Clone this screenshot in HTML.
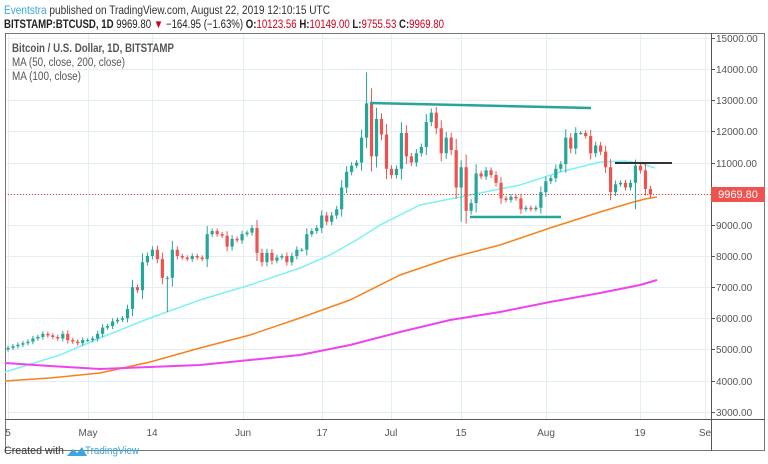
<!DOCTYPE html>
<html><head><meta charset="utf-8"><style>
body{margin:0;background:#fff;width:768px;height:464px;overflow:hidden;font-family:"Liberation Sans",sans-serif}
svg{position:absolute;left:0;top:0}
</style></head><body>
<svg id="s" width="768" height="464" xmlns="http://www.w3.org/2000/svg" font-family="Liberation Sans, sans-serif">
<text x="4" y="14" font-size="12" fill="#333" textLength="326" lengthAdjust="spacingAndGlyphs"><tspan fill="#3ba6e0">Eventstra</tspan> published on TradingView.com, August 22, 2019 12:10:15 UTC</text>
<text x="4" y="28" font-size="11.5" fill="#222" textLength="440" lengthAdjust="spacingAndGlyphs"><tspan font-weight="bold">BITSTAMP:BTCUSD, 1D</tspan> 9969.80 <tspan fill="#d0021b">▼</tspan> −164.95 (−1.63%) <tspan font-weight="bold">O:</tspan><tspan fill="#d0021b">10123.56</tspan> <tspan font-weight="bold">H:</tspan><tspan fill="#d0021b">10149.00</tspan> <tspan font-weight="bold">L:</tspan><tspan fill="#d0021b">9755.53</tspan> <tspan font-weight="bold">C:</tspan><tspan fill="#d0021b">9969.80</tspan></text>
<g id="grid" stroke="#e3eff4" stroke-width="1"></g>
<rect x="5.5" y="33.5" width="759" height="417" fill="none" stroke="#777"/>
<line x1="711.5" y1="33" x2="711.5" y2="451" stroke="#555"/>
<line x1="5" y1="419.5" x2="765" y2="419.5" stroke="#555"/>
<text x="12" y="52" font-size="11.5" fill="#555" font-weight="bold" textLength="162" lengthAdjust="spacingAndGlyphs">Bitcoin / U.S. Dollar, 1D, BITSTAMP</text>
<text x="12" y="66" font-size="11.5" fill="#555" textLength="113" lengthAdjust="spacingAndGlyphs">MA (50, close, 200, close)</text>
<text x="12" y="80" font-size="11.5" fill="#555" textLength="69" lengthAdjust="spacingAndGlyphs">MA (100, close)</text>
<g id="yl" font-size="10" fill="#555"></g>
<g id="xl" font-size="10" fill="#555" text-anchor="middle"></g>
<polyline fill="none" stroke="#7ff0f5" stroke-width="1.5" points="5,372 60,355 100,338 150,318 200,300 250,285 300,268 330,255 360,238 380,225 420,205 470,195 520,185 560,172 600,162 625,161 640,163 655,168"/>
<polyline fill="none" stroke="#f7821b" stroke-width="1.5" points="5,381 50,378 100,373 150,362 200,348 250,335 300,318 350,300 400,275 450,258 500,245 550,228 600,212 630,203 645,199 657,197"/>
<polyline fill="none" stroke="#ee44ee" stroke-width="2" points="5,363 50,366 100,369 150,367 200,365 250,360 300,355 350,345 400,332 450,320 500,312 550,302 600,293 640,285 657,280"/>
<line x1="5" y1="194.5" x2="711" y2="194.5" stroke="#e53935" stroke-dasharray="1,2"/>
<g id="c"></g>
<line x1="370" y1="103" x2="591" y2="108" stroke="#26a69a" stroke-width="2.5"/>
<line x1="470" y1="217" x2="561" y2="217" stroke="#26a69a" stroke-width="2.5"/>
<line x1="615" y1="163" x2="672" y2="163" stroke="#333" stroke-width="2"/>
<rect x="711" y="187" width="54" height="15" fill="#ef5350"/>
<text x="738" y="198" font-size="11" fill="#fff" text-anchor="middle">9969.80</text>
<text x="4" y="454" font-size="11" fill="#333" textLength="60" lengthAdjust="spacingAndGlyphs">Created with</text>
<path d="M67 456 l6-7 4 4 5-6 5 9z" fill="#3ba6e0"/>
<text x="85" y="454" font-size="11" fill="#3ba6e0" textLength="54" lengthAdjust="spacingAndGlyphs">TradingView</text>
</svg>
<script>
const NS="http://www.w3.org/2000/svg";
function el(p,t,a,txt){const e=document.createElementNS(NS,t);for(const k in a)e.setAttribute(k,a[k]);if(txt)e.textContent=txt;document.getElementById(p).appendChild(e);}
const Y=p=>38+(15000-p)*0.03114;
for(let p=3000;p<=15000;p+=1000){const y=Math.round(Y(p))+.5;el("grid","line",{x1:5,x2:711,y1:y,y2:y});el("yl","text",{x:716,y:y+3.5},p+".00");el("grid","line",{x1:711,x2:715,y1:y,y2:y,stroke:"#555"});}
const xs=[[8,"5"],[88,"May"],[152,"14"],[243,"Jun"],[322,"17"],[391,"Jul"],[461,"15"],[546,"Aug"],[640,"19"],[705,"Se"]];
xs.forEach(([x,t])=>{el("grid","line",{x1:x+.5,x2:x+.5,y1:34,y2:419});el("xl","text",{x:x,y:436},t);});
const C=[5050,5100,5150,5200,5250,5350,5400,5500,5450,5400,5350,5500,5300,5250,5200,5300,
5300,5350,5500,5700,5750,5900,5950,6000,6300,7000,6900,7800,8000,8200,7900,7300,7300,8200,8000,7950,7900,8000,7950,7900,8700,8800,8700,8650,8300,8550,8500,
8700,8750,8900,8100,7800,8100,7850,7950,8000,7800,8000,8200,8200,8700,8800,8900,9300,9100,9300,9500,10200,10700,10900,11000,11800,12900,11200,12400,11900,10800,
10600,10800,11950,11200,11000,11300,11500,12300,12600,12100,11300,11800,11400,10200,10850,9450,9700,10650,10550,10750,10600,10350,9850,9800,9900,9850,9500,9550,9500,9550,10050,
10400,10500,10800,10950,11800,11450,11950,11950,11850,11300,11550,11350,10850,10050,10300,10350,10200,10350,10900,10750,10150,9970];
let prev=5000;
C.forEach((c,i)=>{const x=8+i*4.98;const o=prev;const up=c>=o;const col=up?"#26a69a":"#ef5350";
let hi=Math.max(o,c)+Math.abs(c-o)*0.25+60,lo=Math.min(o,c)-Math.abs(c-o)*0.25-60;
if(i==72)hi=13900;if(i==32)lo=6200;if(i==91)lo=9100;if(i==126)lo=9500;
el("c","line",{x1:x,x2:x,y1:Y(hi),y2:Y(lo),stroke:col});
const t=Y(Math.max(o,c)),b=Y(Math.min(o,c));el("c","rect",{x:x-1.6,y:t,width:3.2,height:Math.max(1,b-t),fill:col});prev=c;});
</script>
</body></html>
